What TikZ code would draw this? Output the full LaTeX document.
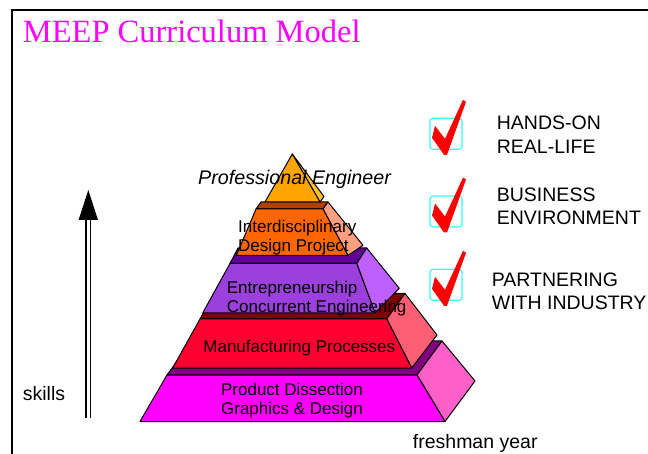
\documentclass[tikz,border=0pt]{standalone}
\usepackage{fontspec}
\setmainfont{Liberation Sans}
\newfontfamily\titlefont{Liberation Serif}
\usetikzlibrary{arrows.meta}
\definecolor{titlepink}{RGB}{255,0,255}
\definecolor{dissfront}{RGB}{255,0,255}
\definecolor{dissside}{RGB}{255,95,200}
\definecolor{disstop}{RGB}{128,0,128}
\definecolor{manufront}{RGB}{255,0,48}
\definecolor{manuside}{RGB}{255,95,117}
\definecolor{manutop}{RGB}{128,0,0}
\definecolor{entrefront}{RGB}{155,64,220}
\definecolor{entreside}{RGB}{190,95,255}
\definecolor{entretop}{RGB}{97,0,153}
\definecolor{interfront}{RGB}{255,102,0}
\definecolor{interside}{RGB}{255,160,128}
\definecolor{intertop}{RGB}{176,64,0}
\definecolor{tipfront}{RGB}{255,165,0}
\definecolor{tipside}{RGB}{255,192,48}
\definecolor{boxcyan}{RGB}{51,255,255}
\definecolor{checkred}{RGB}{255,0,0}
\begin{document}
\begin{tikzpicture}[x=1pt,y=-1pt,
    layerface/.style={draw=black,line width=1pt,line join=round,fill=#1},
    layertext/.style={inner sep=0pt,font=\fontsize{17}{19}\selectfont},
    goal/.style={inner sep=0pt,align=left,anchor=north west,font=\fontsize{19.5}{23.3}\selectfont},
    tickbox/.style={draw=boxcyan,line width=1.2pt,rounded corners=3pt}]
  \useasboundingbox (0,0) rectangle (648,454);
  \draw[line width=1.3pt] (12,454) -- (12,10) -- (648,10);
  \node[anchor=base west,inner sep=0pt,text=titlepink,font=\titlefont\fontsize{32.5}{36}\selectfont] (title) at (22.7,42.7) {MEEP Curriculum Model};

  \draw[layerface=disstop] (167,375) -- (417,375) -- (442,341) -- (192,341) -- cycle;
  \draw[layerface=dissside] (417,375) -- (445,421.5) -- (475,381) -- (442,341) -- cycle;
  \draw[layerface=dissfront] (140,421.5) -- (445,421.5) -- (417,375) -- (167,375) -- cycle;

  \draw[layerface=manutop] (200,319) -- (386.7,319) -- (405,293.5) -- (214,293.5) -- cycle;
  \draw[layerface=manuside] (386.7,319) -- (411.7,368) -- (437,335) -- (405,293.5) -- cycle;
  \draw[layerface=manufront] (172.7,368) -- (411.7,368) -- (386.7,319) -- (200,319) -- cycle;

  \draw[layerface=entretop] (230,263.5) -- (356.7,263.5) -- (366.7,248) -- (238,248) -- cycle;
  \draw[layerface=entreside] (356.7,263.5) -- (375,313) -- (399.3,288.3) -- (366.7,248) -- cycle;
  \draw[layerface=entrefront] (202.7,313) -- (375,313) -- (356.7,263.5) -- (230,263.5) -- cycle;

  \draw[layerface=intertop] (256,209) -- (323,209) -- (328,202) -- (261,202) -- cycle;
  \draw[layerface=interside] (323,209) -- (348,255.5) -- (363,245.3) -- (328,202) -- cycle;
  \draw[layerface=interfront] (236.3,255.5) -- (348,255.5) -- (323,209) -- (256,209) -- cycle;

  \draw[layerface=tipside] (292.3,154) -- (324,196.5) -- (320,202) -- cycle;
  \draw[layerface=tipfront] (265,202) -- (320,202) -- (292.3,154) -- cycle;

  \node[layertext,align=center,anchor=north] (dissection) at (292,382.8) {Product Dissection\\Graphics \& Design};
  \node[layertext,anchor=base] (manufacturing) at (299.3,352.7) {Manufacturing Processes};
  \node[layertext,align=left,anchor=north west,font=\fontsize{17}{18.4}\selectfont] (entrepreneurship) at (226.7,281.1) {Entrepreneurship\\Concurrent Engineering};
  \node[layertext,align=left,anchor=north west,font=\fontsize{17}{19.3}\selectfont] (interdisciplinary) at (238,219.8) {Interdisciplinary\\Design Project};
  \node[anchor=base west,inner sep=0pt,font=\itshape\fontsize{19.7}{22}\selectfont] (engineer) at (198,184.3) {Professional Engineer};

  \foreach \by in {118.3,196,269.3}{
    \draw[tickbox] (430,\by) rectangle ++(32,31);
    \fill[checkred,shift={(446,\by+15.5)}] (-14,4) -- (-11,-8) -- (-1,5) -- (17,-34) -- (20,-32) -- (1,21) -- (-2,21) -- cycle;
  }
  \node[goal] (handson) at (496.7,116) {HANDS-ON\\REAL-LIFE};
  \node[goal] (business) at (496.7,187.7) {BUSINESS\\ENVIRONMENT};
  \node[goal] (partnering) at (491.7,272.7) {PARTNERING\\WITH INDUSTRY};

  \coordinate (skillsfoot) at (88.3,418.3);
  \coordinate (skillstop) at (88.3,190);
  \draw[double,double distance=3pt,line width=1.5pt,-{Triangle[length=30pt,width=19pt]}] (skillsfoot) -- (skillstop);
  \node[anchor=base west,inner sep=0pt,font=\fontsize{19.5}{23}\selectfont] (skills) at (22.7,400.7) {skills};
  \node[anchor=base west,inner sep=0pt,font=\fontsize{19.5}{23}\selectfont] (freshman) at (412.7,448.3) {freshman year};
\end{tikzpicture}
\end{document}
